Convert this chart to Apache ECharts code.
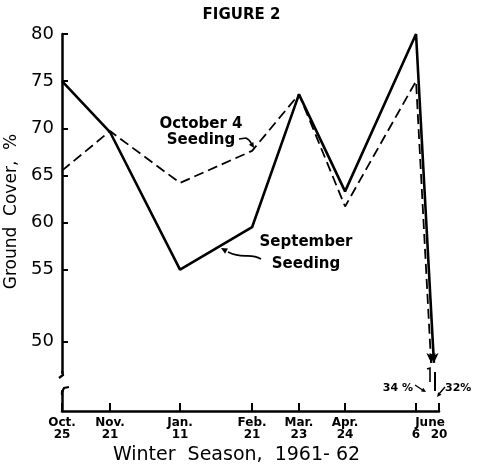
<!DOCTYPE html>
<html>
<head>
<meta charset="utf-8">
<script src="https://cdn.jsdelivr.net/npm/echarts@6/dist/echarts.min.js"></script>
<style>
  html, body { margin: 0; background: #fff; }
  #chart { width: 483px; height: 465px; }
</style>
</head>
<body>
<div id="chart"></div>
<script>
// sampling dates, placed on the axis where the figure draws them (days after Oct 25)
var dateLabels = ['Oct.\n25', 'Nov.\n21', 'Jan.\n11', 'Feb.\n21', 'Mar.\n23', 'Apr.\n24', '\n6', '\n20'];
var datePos = [0, 30.3, 74.5, 120, 149.6, 178.7, 223.5, 238];

// ground cover, %
var septemberSeeding = [75, 69.6, 55, 59.5, 73.6, 63.3, 80];
var octoberSeeding = [65.5, 69.7, 64.2, 67.6, 73.6, 61.7, 75];
// June 20 values fall below the axis break
var june20Labels = ['32%', '34 %'];   // September, October
var breakCross = [234.8, 233];        // where each line runs into the break
var breakEdge = 45.1;

var yTicks = [55, 60, 65, 70, 75, 80];
var y50Pos = 47.4;  // the figure draws "50" lower than a linear scale would

var FONT = 'DejaVu Sans';
var chart = echarts.init(document.getElementById('chart'));

function lineData(vals, endX) {
    var d = vals.map(function (v, i) { return [datePos[i], v]; });
    d.push({ value: [endX, breakEdge], symbol: 'arrow', symbolSize: [7, 10], symbolRotate: 180 });
    return d;
}

function arrowHead(x1, y1, x2, y2, size) {
    var a = Math.atan2(y2 - y1, x2 - x1), s = size || 6;
    return [[x2, y2],
        [x2 - s * Math.cos(a - 0.45), y2 - s * Math.sin(a - 0.45)],
        [x2 - s * Math.cos(a + 0.45), y2 - s * Math.sin(a + 0.45)]];
}

var labelPos = [y50Pos].concat(yTicks);

chart.setOption({
    animation: false,
    backgroundColor: '#fff',
    title: {
        text: 'FIGURE 2',
        left: 'center',
        top: 3,
        textStyle: { fontFamily: FONT, fontSize: 15, fontWeight: 'bold', color: '#000' }
    },
    grid: { left: 62, top: 34, right: 44, bottom: 54, outerBoundsMode: 'none', containLabel: false },
    xAxis: {
        type: 'value',
        min: 0,
        max: 238,
        name: 'Winter  Season,  1961- 62',
        nameLocation: 'middle',
        nameGap: 34,
        nameTextStyle: { fontFamily: FONT, fontSize: 19, color: '#000', padding: [0, 28, 0, 0] },
        splitLine: { show: false },
        axisLine: { lineStyle: { color: '#000', width: 2.5 } },
        axisTick: { customValues: datePos, inside: true, length: 8, lineStyle: { color: '#000', width: 2 } },
        axisLabel: {
            customValues: datePos,
            formatter: function (v) { return dateLabels[datePos.indexOf(v)]; },
            fontFamily: FONT, fontSize: 12, fontWeight: 'bold', color: '#000',
            lineHeight: 12, margin: 6
        }
    },
    yAxis: {
        type: 'value',
        min: 40,
        max: 80,
        name: 'Ground  Cover,  %',
        nameLocation: 'middle',
        nameGap: 39,
        nameTextStyle: { fontFamily: FONT, fontSize: 17, color: '#000', padding: [0, 0, 0, 22] },
        splitLine: { show: false },
        axisLine: { lineStyle: { color: '#000', width: 2.5 } },
        axisTick: { customValues: labelPos, inside: true, length: 6, lineStyle: { color: '#000', width: 2 } },
        axisLabel: {
            customValues: labelPos,
            formatter: function (v) { return v === y50Pos ? '50' : String(v); },
            fontFamily: FONT, fontSize: 18, color: '#000', margin: 8
        }
    },
    series: [{
        name: 'September Seeding',
        type: 'line',
        data: lineData(septemberSeeding, breakCross[0]),
        symbol: 'none',
        showSymbol: true,
        itemStyle: { color: '#000' },
        lineStyle: { color: '#000', width: 2.6 }
    }, {
        name: 'October 4 Seeding',
        type: 'line',
        data: lineData(octoberSeeding, breakCross[1]),
        symbol: 'none',
        showSymbol: true,
        itemStyle: { color: '#000' },
        lineStyle: { color: '#000', width: 1.8, type: [10, 5] }
    }],
    graphic: [
        // y axis break
        { type: 'rect', shape: { x: 56, y: 374, width: 12, height: 16 }, style: { fill: '#fff' }, z: 100 },
        { type: 'polyline', shape: { points: [[62, 371], [63, 375], [59, 378]] }, style: { stroke: '#000', lineWidth: 2.2, fill: null }, z: 101 },
        { type: 'polyline', shape: { points: [[69, 387], [64, 388], [62, 392], [62, 395]] }, style: { stroke: '#000', lineWidth: 2.2, fill: null }, z: 101 },
        // "June" spans the last two ticks
        { type: 'text', style: { text: 'June', x: 430, y: 417, textAlign: 'center', font: 'bold 12px ' + FONT, fill: '#000' } },
        // annotations
        { type: 'text', style: { text: 'October 4\nSeeding', x: 201, y: 116, textAlign: 'center', font: 'bold 15px ' + FONT, lineHeight: 16, fill: '#000' } },
        { type: 'polyline', shape: { points: [[239, 139], [246, 138], [249, 140]] }, style: { stroke: '#000', lineWidth: 1.6, fill: null } },
        { type: 'polyline', shape: { points: [[249, 140], [253, 146]] }, style: { stroke: '#000', lineWidth: 1.6, fill: null } },
        { type: 'polygon', shape: { points: arrowHead(249, 140, 254, 148, 6) }, style: { fill: '#000' } },
        { type: 'text', style: { text: 'September\nSeeding', x: 306, y: 231, textAlign: 'center', font: 'bold 15px ' + FONT, lineHeight: 22, fill: '#000' } },
        { type: 'bezierCurve', shape: { x1: 261, y1: 259, x2: 228, y2: 252, cpx1: 249, cpy1: 252, cpx2: 244, cpy2: 260 }, style: { stroke: '#000', lineWidth: 1.6, fill: null } },
        { type: 'polygon', shape: { points: arrowHead(230, 253, 221, 248, 7) }, style: { fill: '#000' } },
        // continuation below the break, June 20
        { type: 'polyline', shape: { points: [[427, 369], [430, 368], [430, 382]] }, style: { stroke: '#000', lineWidth: 1.6, fill: null } },
        { type: 'line', shape: { x1: 435, y1: 372, x2: 435, y2: 391 }, style: { stroke: '#000', lineWidth: 2 } },
        { type: 'text', style: { text: june20Labels[1], x: 413, y: 383, textAlign: 'right', font: 'bold 11px ' + FONT, fill: '#000' } },
        { type: 'line', shape: { x1: 415, y1: 385, x2: 424, y2: 391 }, style: { stroke: '#000', lineWidth: 1.4 } },
        { type: 'polygon', shape: { points: arrowHead(415, 385, 426, 392, 5) }, style: { fill: '#000' } },
        { type: 'text', style: { text: june20Labels[0], x: 445, y: 383, textAlign: 'left', font: 'bold 11px ' + FONT, fill: '#000' } },
        { type: 'line', shape: { x1: 445, y1: 387, x2: 439, y2: 394 }, style: { stroke: '#000', lineWidth: 1.4 } },
        { type: 'polygon', shape: { points: arrowHead(445, 387, 437, 397, 5) }, style: { fill: '#000' } }
    ]
});
</script>
</body>
</html>
